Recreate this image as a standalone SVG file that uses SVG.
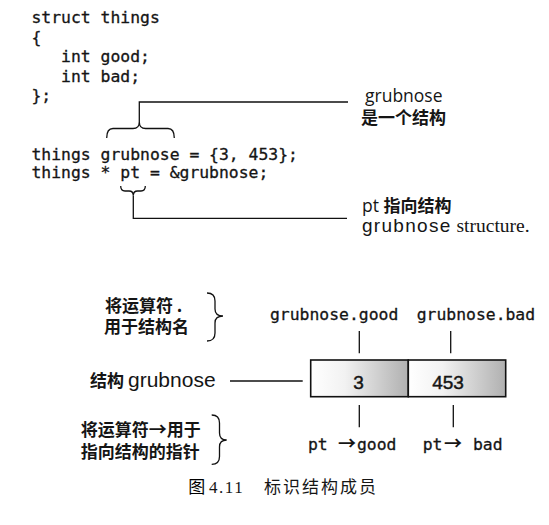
<svg xmlns="http://www.w3.org/2000/svg" width="549" height="525" viewBox="0 0 549 525">
<style>
.code{font-family:"DejaVu Sans Mono","Liberation Mono",monospace;font-size:16.4px;fill:#151515;stroke:#151515;stroke-width:0.3}
.cjk{font-family:"Noto Sans CJK SC",sans-serif;font-size:17px;font-weight:700;fill:#151515}
.sans{font-family:"Open Sans","Liberation Sans",sans-serif;font-size:17.5px;fill:#151515}
.hel{font-family:"Liberation Sans",sans-serif;fill:#151515}
.serif{font-family:"Liberation Serif",serif;fill:#151515}
.arr{font-family:"Noto Sans CJK SC",sans-serif;font-size:18px;font-weight:700;stroke-width:0}
.ln{fill:none;stroke:#111;stroke-width:1.3}
.cell{stroke:#111;stroke-width:1.6}
</style>
<defs>
<linearGradient id="shade" x1="0" y1="0" x2="1" y2="0">
<stop offset="0" stop-color="#ffffff"/>
<stop offset="0.35" stop-color="#f2f2f2"/>
<stop offset="1" stop-color="#b0b0b0"/>
</linearGradient>
</defs>
<rect width="549" height="525" fill="#fff"/>

<g id="code">
<text class="code" x="31.5" y="23">struct things</text>
<text class="code" x="31.5" y="42.5">{</text>
<text class="code" x="61.1" y="62">int good;</text>
<text class="code" x="61.1" y="81.5">int bad;</text>
<text class="code" x="31.5" y="101">};</text>
<text class="code" x="31.5" y="160">things grubnose = {3, 453};</text>
<text class="code" x="31.5" y="177.5">things * pt = &amp;grubnose;</text>
</g>

<g id="connectors">
<path class="ln" d="M106.7,138 Q106.7,128.5 113,128.5 L133,128.5 Q139.3,128.5 139.3,122 Q139.3,128.5 145.6,128.5 L168,128.5 Q174.3,128.5 174.3,138"/>
<path class="ln" d="M139.3,122 V102 H348"/>
<path class="ln" d="M120.7,186 Q120.7,191 125,191 L129,191 Q133.3,191 133.3,195.5 Q133.3,191 137.6,191 L141,191 Q145.3,191 145.3,186"/>
<path class="ln" d="M133.3,195.5 V218.3 H347"/>
<path class="ln" d="M207,293 Q215,293 215,301 V309 Q215,316 223,316 Q215,316 215,323 V333 Q215,341 207,341"/>
<path class="ln" d="M211.7,415 Q219.5,415 219.5,423 V433 Q219.5,440 226.7,440 Q219.5,440 219.5,447 V456.5 Q219.5,464.3 211.7,464.3"/>
<path class="ln" d="M230,381 H302.7"/>
<path class="ln" d="M359.3,331 V353.3 M450.7,331 V353.3"/>
<path class="ln" d="M359.3,405 V427.3 M453.3,405 V427.3"/>
</g>

<g id="label-grubnose">
<text x="365" y="101.5"><tspan class="sans">grubnose</tspan><tspan class="cjk" x="361" y="124">是一个结构</tspan></text>
</g>

<g id="label-pt">
<text x="362" y="212"><tspan class="sans">pt </tspan><tspan class="cjk">指向结构</tspan><tspan class="hel" x="362" y="232" font-size="19" letter-spacing="1.3">grubnose</tspan><tspan class="serif" font-size="19.5"> structure.</tspan></text>
</g>

<g id="label-dot-op">
<text class="cjk" x="105" y="311.5">将运算符 .<tspan x="104" y="333">用于结构名</tspan></text>
</g>

<g id="member-names">
<text class="code" x="270" y="320">grubnose.good</text>
<text class="code" x="416.7" y="320">grubnose.bad</text>
</g>

<g id="label-struct">
<text x="90" y="387"><tspan class="cjk">结构</tspan><tspan class="hel" x="128" font-size="21">grubnose</tspan></text>
</g>

<g id="struct-box">
<rect class="cell" x="310.7" y="360" width="97.6" height="36.7" fill="url(#shade)"/>
<rect class="cell" x="408.3" y="360" width="97.4" height="36.7" fill="url(#shade)"/>
<text class="hel" x="358.5" y="388.5" font-size="19" text-anchor="middle" stroke="#151515" stroke-width="0.45">3</text>
<text class="hel" x="448" y="388.5" font-size="19" text-anchor="middle" stroke="#151515" stroke-width="0.45">453</text>
</g>

<g id="pointer-names">
<text class="code" x="308" y="450">pt <tspan class="arr" x="338">→</tspan><tspan x="357">good</tspan></text>
<text class="code" x="422.7" y="450">pt<tspan class="arr" x="444">→</tspan><tspan x="463.1"> bad</tspan></text>
</g>

<g id="label-arrow-op">
<text class="cjk" x="80.7" y="436">将运算符<tspan class="arr">→</tspan>用于<tspan x="80.7" y="458">指向结构的指针</tspan></text>
</g>

<g id="caption">
<text x="188.3" y="493"><tspan font-family="Noto Sans CJK SC,sans-serif" font-size="17">图 </tspan><tspan class="serif" font-size="17" letter-spacing="1.5">4.11</tspan></text>
<text x="264" y="493" font-family="Noto Sans CJK SC,sans-serif" font-size="17" letter-spacing="2" fill="#151515">标识结构成员</text>
</g>
</svg>
